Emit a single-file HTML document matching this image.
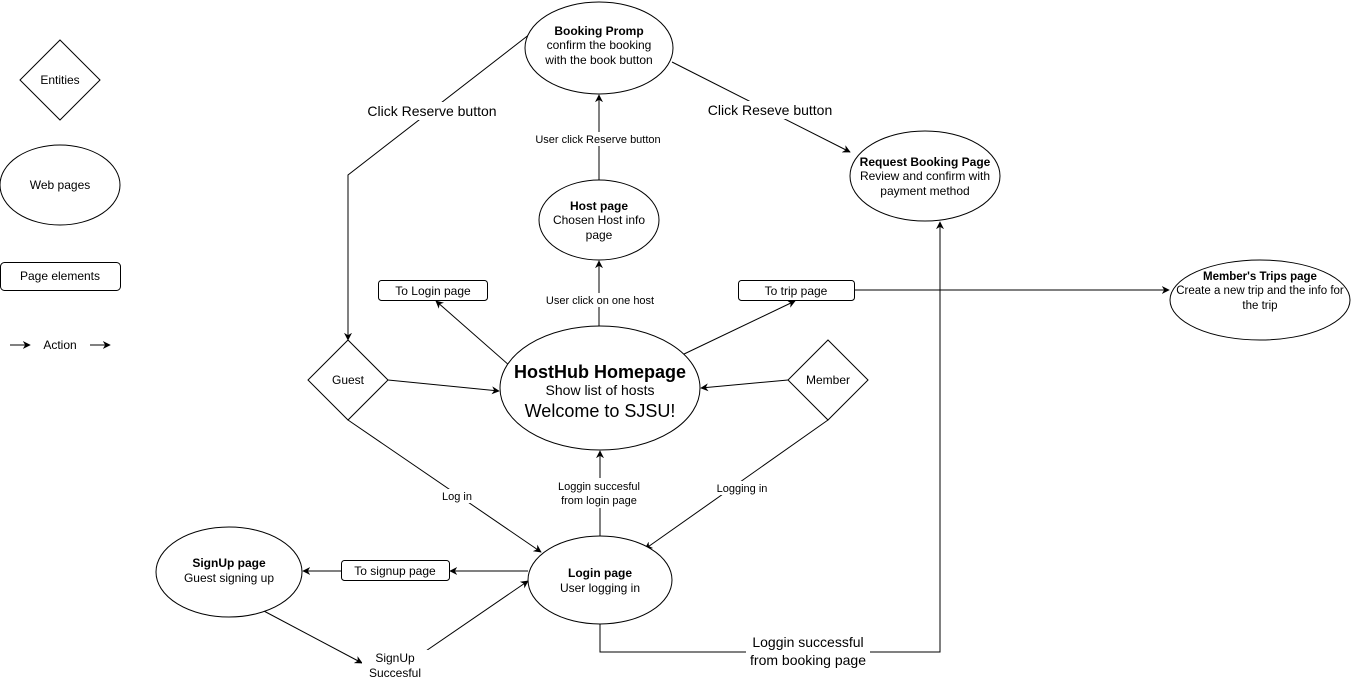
<!DOCTYPE html>
<html><head><meta charset="utf-8"><style>
html,body{margin:0;padding:0;background:#fff}
svg{display:block}
text{font-family:"Liberation Sans",Helvetica,Arial,sans-serif;fill:#000}
</style></head><body>
<svg width="1352" height="681" viewBox="0 0 1352 681" xmlns="http://www.w3.org/2000/svg">
<defs>
<marker id="a" viewBox="0 0 10 10" refX="9" refY="5" markerWidth="8" markerHeight="8" orient="auto" markerUnits="userSpaceOnUse">
<path d="M0,0 L10,5 L0,10 L3,5 Z" fill="#000"/>
</marker>
</defs>
<g fill="none" stroke="#000" stroke-width="1">
<polyline points="548,20 348,175 348,340" marker-end="url(#a)"/>
<line x1="672" y1="62" x2="850" y2="152" marker-end="url(#a)"/>
<line x1="599" y1="180" x2="599" y2="95" marker-end="url(#a)"/>
<line x1="599" y1="326" x2="599" y2="261" marker-end="url(#a)"/>
<line x1="510" y1="366" x2="436" y2="301" marker-end="url(#a)"/>
<line x1="682" y1="355" x2="795" y2="301" marker-end="url(#a)"/>
<line x1="854" y1="290" x2="1169" y2="290" marker-end="url(#a)"/>
<line x1="388" y1="380" x2="499" y2="391" marker-end="url(#a)"/>
<line x1="788" y1="380" x2="701" y2="388" marker-end="url(#a)"/>
<line x1="348" y1="420" x2="541" y2="552" marker-end="url(#a)"/>
<line x1="828" y1="420" x2="645" y2="549" marker-end="url(#a)"/>
<line x1="600" y1="536" x2="600" y2="451" marker-end="url(#a)"/>
<line x1="528" y1="571" x2="450" y2="571" marker-end="url(#a)"/>
<line x1="341" y1="571" x2="303" y2="571" marker-end="url(#a)"/>
<line x1="262" y1="610" x2="362" y2="663" marker-end="url(#a)"/>
<line x1="420" y1="655" x2="528" y2="581" marker-end="url(#a)"/>
<polyline points="600,624 600,652 940,652 940,222" marker-end="url(#a)"/>
<polygon points="60,40 100,80 60,120 20,80" fill="#fff"/>
<ellipse cx="60" cy="185" rx="60" ry="40" fill="#fff"/>
<rect x="0.5" y="262.5" width="120" height="28" rx="4" fill="#fff"/>
<line x1="10" y1="345" x2="30" y2="345" marker-end="url(#a)"/>
<line x1="90" y1="345" x2="110" y2="345" marker-end="url(#a)"/>
<ellipse cx="599" cy="48" rx="74" ry="46" fill="#fff"/>
<ellipse cx="925" cy="176" rx="75" ry="45" fill="#fff"/>
<ellipse cx="599" cy="220" rx="60" ry="40" fill="#fff"/>
<ellipse cx="600" cy="388" rx="100" ry="62" fill="#fff"/>
<ellipse cx="1260" cy="300" rx="90" ry="40" fill="#fff"/>
<ellipse cx="600" cy="580" rx="72" ry="44" fill="#fff"/>
<ellipse cx="229" cy="572" rx="73" ry="45" fill="#fff"/>
<polygon points="348,340 388,380 348,420 308,380" fill="#fff"/>
<polygon points="828,340 868,380 828,420 788,380" fill="#fff"/>
<rect x="378.5" y="280.5" width="109" height="20" rx="3" fill="#fff"/>
<rect x="738.5" y="280.5" width="116" height="20" rx="3" fill="#fff"/>
<rect x="341.5" y="560.5" width="108" height="20" rx="3" fill="#fff"/>
</g>
<g fill="#fff">
<rect x="364" y="102" width="136" height="18"/>
<rect x="704" y="101" width="132" height="18"/>
<rect x="532" y="132" width="132" height="14"/>
<rect x="543" y="293" width="114" height="14"/>
<rect x="438" y="489" width="38" height="14"/>
<rect x="714" y="481" width="56" height="14"/>
<rect x="553" y="478" width="92" height="30"/>
<rect x="362" y="650" width="66" height="30"/>
<rect x="746" y="634" width="124" height="36"/>
</g>
<g font-size="12" text-anchor="middle">
<text x="60" y="84">Entities</text>
<text x="60" y="189">Web pages</text>
<text x="60" y="280">Page elements</text>
<text x="60" y="349">Action</text>
<text x="599" y="35" font-weight="bold">Booking Promp</text>
<text x="599" y="49">confirm the booking</text>
<text x="599" y="64">with the book button</text>
<text x="925" y="166" font-weight="bold">Request Booking Page</text>
<text x="925" y="180">Review and confirm with</text>
<text x="925" y="195">payment method</text>
<text x="599" y="210" font-weight="bold">Host page</text>
<text x="599" y="224">Chosen Host info</text>
<text x="599" y="239">page</text>
<text x="600" y="378" font-size="18" font-weight="bold">HostHub Homepage</text>
<text x="600" y="395" font-size="14">Show list of hosts</text>
<text x="600" y="417" font-size="18">Welcome to SJSU!</text>
<text x="1260" y="280" font-size="11.5" font-weight="bold">Member's Trips page</text>
<text x="1260" y="294" font-size="11.5">Create a new trip and the info for</text>
<text x="1260" y="309" font-size="11.5">the trip</text>
<text x="600" y="577" font-weight="bold">Login page</text>
<text x="600" y="592">User logging in</text>
<text x="229" y="567" font-weight="bold">SignUp page</text>
<text x="229" y="582">Guest signing up</text>
<text x="348" y="384">Guest</text>
<text x="828" y="384">Member</text>
<text x="433" y="295">To Login page</text>
<text x="796" y="295">To trip page</text>
<text x="395" y="575">To signup page</text>
<text x="432" y="116" font-size="14">Click Reserve button</text>
<text x="770" y="115" font-size="14">Click Reseve button</text>
<text x="598" y="143" font-size="11">User click Reserve button</text>
<text x="600" y="304" font-size="11">User click on one host</text>
<text x="457" y="500" font-size="11">Log in</text>
<text x="742" y="492" font-size="11">Logging in</text>
<text x="599" y="490" font-size="11">Loggin succesful</text>
<text x="599" y="504" font-size="11">from login page</text>
<text x="395" y="662">SignUp</text>
<text x="395" y="677">Succesful</text>
<text x="808" y="647" font-size="14">Loggin successful</text>
<text x="808" y="665" font-size="14">from booking page</text>
</g>
</svg>
</body></html>
